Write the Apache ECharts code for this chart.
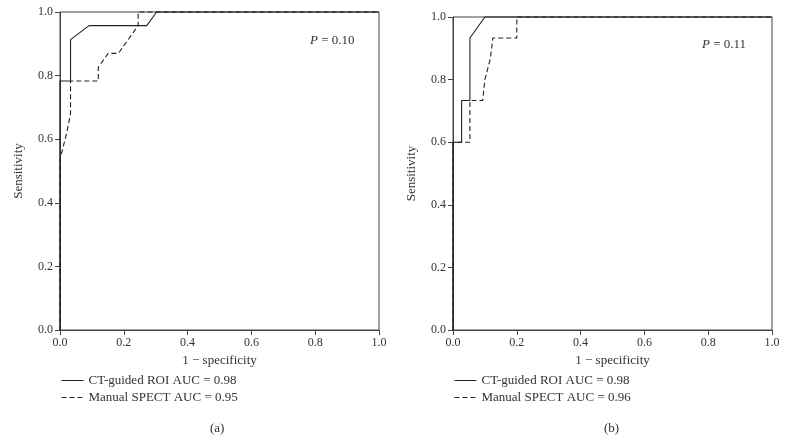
<!DOCTYPE html>
<html>
<head>
<meta charset="utf-8">
<script src="https://cdn.jsdelivr.net/npm/echarts@6/dist/echarts.min.js"></script>
<style>
  html, body { margin: 0; padding: 0; background: #fff; }
  #chart { width: 788px; height: 448px; }
</style>
</head>
<body>
<div id="chart"></div>
<script>
// panel (a)
const fprA_ct = [0, 0, 0.033, 0.033, 0.091, 0.272, 0.303, 1]
const tprA_ct = [0, 0.783, 0.783, 0.913, 0.957, 0.957, 1, 1]
const fprA_man = [0, 0, 0.021, 0.033, 0.033, 0.12, 0.12, 0.151, 0.183, 0.245, 0.245, 1]
const tprA_man = [0, 0.536, 0.62, 0.68, 0.783, 0.783, 0.826, 0.87, 0.87, 0.957, 1, 1]

// panel (b)
const fprB_ct = [0, 0, 0.027, 0.027, 0.053, 0.053, 0.1, 1]
const tprB_ct = [0, 0.6, 0.6, 0.733, 0.733, 0.933, 1, 1]
const fprB_man = [0, 0, 0.053, 0.053, 0.093, 0.1, 0.117, 0.125, 0.2, 0.2, 1]
const tprB_man = [0, 0.6, 0.6, 0.733, 0.733, 0.8, 0.867, 0.933, 0.933, 1, 1]

const ctName = 'CT-guided ROI AUC = 0.98'
const manNameA = 'Manual SPECT AUC = 0.95'
const manNameB = 'Manual SPECT AUC = 0.96'
const pValues = ['0.10', '0.11']
const panelLabels = ['(a)', '(b)']

const font = '"Liberation Serif", "DejaVu Serif", serif'
const ink = '#333'

const zip = (xs, ys) => xs.map((x, i) => [x, ys[i]])

const makeX = (gridIndex) => ({
  type: 'value', gridIndex, min: 0, max: 1, interval: 0.2,
  name: '1 \u2212 specificity', nameLocation: 'middle', nameGap: 22,
  nameTextStyle: { fontFamily: font, fontSize: 13, color: ink },
  axisLine: { show: true, lineStyle: { color: '#444' } },
  axisTick: { show: true, length: 5, lineStyle: { color: '#444' } },
  axisLabel: { fontFamily: font, fontSize: 12, color: ink, margin: 7,
    formatter: (v) => v.toFixed(1) },
  splitLine: { show: false }
})

const makeY = (gridIndex) => ({
  type: 'value', gridIndex, min: 0, max: 1, interval: 0.2,
  name: 'Sensitivity', nameLocation: 'middle', nameGap: 35, nameRotate: 90,
  nameTextStyle: { fontFamily: font, fontSize: 13, color: ink },
  axisLine: { show: true, lineStyle: { color: '#444' } },
  axisTick: { show: true, length: 5, lineStyle: { color: '#444' } },
  axisLabel: { fontFamily: font, fontSize: 12, color: ink, margin: 7,
    formatter: (v) => v.toFixed(1) },
  splitLine: { show: false }
})

const makeLine = (name, idx, data, dashed) => ({
  type: 'line', name, xAxisIndex: idx, yAxisIndex: idx, data,
  showSymbol: false, symbol: 'none', clip: false, animation: false,
  lineStyle: { color: '#222', width: 1.1, type: dashed ? [5, 3] : 'solid' },
  itemStyle: { color: '#222' }
})

// legend: line sample only, symbol hidden
const makeLegend = (left, data) => ({
  orient: 'vertical', left, top: 369, itemWidth: 22, itemHeight: 10, itemGap: 4,
  data, textStyle: { fontFamily: font, fontSize: 13, color: ink },
  itemStyle: { opacity: 0 },
  lineStyle: { width: 1 },
  selectedMode: false
})

const chart = echarts.init(document.getElementById('chart'))
chart.setOption({
  animation: false,
  grid: [
    { left: 60, right: 409, top: 12, bottom: 118, show: true, borderColor: '#444', borderWidth: 1 },
    { left: 453, right: 16, top: 17, bottom: 118, show: true, borderColor: '#444', borderWidth: 1 }
  ],
  xAxis: [makeX(0), makeX(1)],
  yAxis: [makeY(0), makeY(1)],
  legend: [makeLegend(56, [ctName, manNameA]), makeLegend(449, [ctName, manNameB])],
  title: [
    { text: panelLabels[0], left: 205, top: 417, textStyle: { fontFamily: font, fontSize: 13, fontWeight: 'normal', color: ink } },
    { text: panelLabels[1], left: 599, top: 417, textStyle: { fontFamily: font, fontSize: 13, fontWeight: 'normal', color: ink } }
  ],
  graphic: [
    { type: 'text', left: 310, top: 34, style: { text: '{i|P} = ' + pValues[0], font: '13px ' + font, fill: ink,
      rich: { i: { fontStyle: 'italic', fontFamily: font, fontSize: 13 } } } },
    { type: 'text', left: 702, top: 38, style: { text: '{i|P} = ' + pValues[1], font: '13px ' + font, fill: ink,
      rich: { i: { fontStyle: 'italic', fontFamily: font, fontSize: 13 } } } }
  ],
  series: [
    makeLine(ctName, 0, zip(fprA_ct, tprA_ct), false),
    makeLine(manNameA, 0, zip(fprA_man, tprA_man), true),
    makeLine(ctName, 1, zip(fprB_ct, tprB_ct), false),
    makeLine(manNameB, 1, zip(fprB_man, tprB_man), true)
  ]
})
</script>
</body>
</html>
